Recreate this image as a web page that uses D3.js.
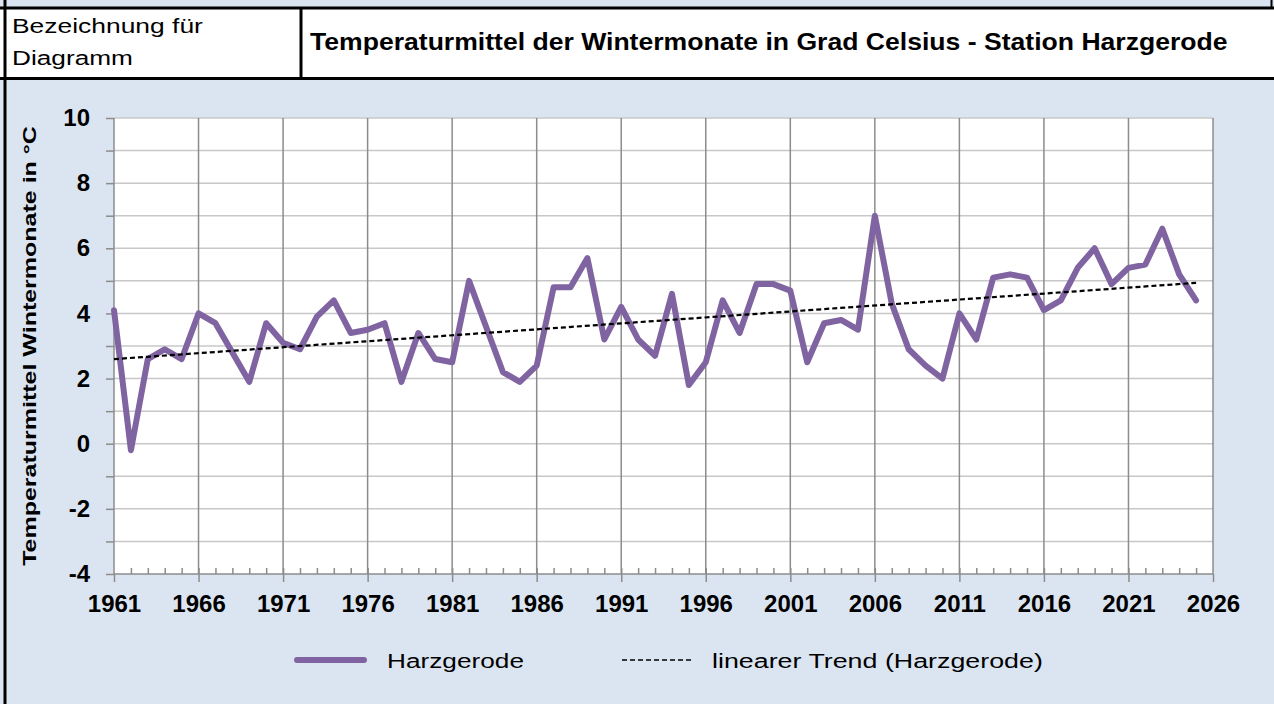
<!DOCTYPE html>
<html>
<head>
<meta charset="utf-8">
<script src="https://cdn.jsdelivr.net/npm/d3@7"></script>
<style>
  body { margin: 0; background: #fff; }
  svg { display: block; font-family: "Liberation Sans", Arial, sans-serif; }
  .grid-h line { stroke: #c8c8c8; stroke-width: 1.5; }
  .grid-v line { stroke: #8c8c8c; stroke-width: 1.5; }
  .axis path, .axis line { stroke: #8c8c8c; stroke-width: 1.5; }
  .axis text { font-size: 24px; font-weight: bold; fill: #000; font-family: "Liberation Sans", Arial, sans-serif; }
</style>
</head>
<body>
<svg id="mainFrame"></svg>
<script>
// data
const years = d3.range(1961, 2026)
const winterTemps = [
    4.1, -0.2, 2.6, 2.9, 2.6, 4.0, 3.7, 2.8, 1.9, 3.7,
    3.1, 2.9, 3.9, 4.4, 3.4, 3.5, 3.7, 1.9, 3.4, 2.6,
    2.5, 5.0, 3.6, 2.2, 1.9, 2.4, 4.8, 4.8, 5.7, 3.2,
    4.2, 3.2, 2.7, 4.6, 1.8, 2.5, 4.4, 3.4, 4.9, 4.9,
    4.7, 2.5, 3.7, 3.8, 3.5, 7.0, 4.3, 2.9, 2.4, 2.0,
    4.0, 3.2, 5.1, 5.2, 5.1, 4.1, 4.4, 5.4, 6.0, 4.9,
    5.4, 5.5, 6.6, 5.2, 4.4
]
const xTickYears = d3.range(1961, 2027, 5)
const yTickValues = [-4, -2, 0, 2, 4, 6, 8, 10]

const titleText = 'Temperaturmittel der Wintermonate in Grad Celsius - Station Harzgerode'
const headerLabel = ['Bezeichnung für', 'Diagramm']
const yAxisTitle = 'Temperaturmittel Wintermonate in °C'
const seriesName = 'Harzgerode'
const trendName = 'linearer Trend (Harzgerode)'

const data = years.map((y, i) => ({ year: y, temp: winterTemps[i] }))

const W = 1274, H = 704
const svg = d3.select('#mainFrame')
    .attr('width', W)
    .attr('height', H)

const margin = { top: 118, left: 114, right: W - 1213, bottom: H - 574 }
const plotW = W - margin.left - margin.right
const plotH = H - margin.top - margin.bottom

// the source renders its text wider than Arial: stretch glyphs horizontally to the measured width
const addText = (parent, x, y, str, size, width, opts = {}) => {
    const t = parent.append('text')
        .attr('font-size', size)
        .attr('font-weight', opts.bold ? 'bold' : null)
        .attr('text-anchor', opts.anchor || 'start')
        .text(str)
    const k = width / t.node().getComputedTextLength()
    t.attr('transform', `translate(${x},${y}) rotate(${opts.rotate || 0}) scale(${k},1)`)
    return t
}

// background + header
svg.append('rect').attr('width', W).attr('height', H).attr('fill', '#dbe5f1')
svg.append('rect').attr('x', 0).attr('y', 8).attr('width', W).attr('height', 70).attr('fill', '#fff')
svg.append('line').attr('x1', 0).attr('x2', W).attr('y1', 8).attr('y2', 8)
    .attr('stroke', '#000').attr('stroke-width', 3)
svg.append('line').attr('x1', 0).attr('x2', W).attr('y1', 78.5).attr('y2', 78.5)
    .attr('stroke', '#000').attr('stroke-width', 3)
svg.append('line').attr('x1', 5).attr('x2', 5).attr('y1', 0).attr('y2', H)
    .attr('stroke', '#000').attr('stroke-width', 3)
svg.append('line').attr('x1', 1271.5).attr('x2', 1271.5).attr('y1', 0).attr('y2', 8)
    .attr('stroke', '#000').attr('stroke-width', 2)
svg.append('line').attr('x1', 301).attr('x2', 301).attr('y1', 8).attr('y2', 78)
    .attr('stroke', '#000').attr('stroke-width', 3)

const headerWidths = [191, 121]
headerLabel.forEach((t, i) => addText(svg, 12, 33 + i * 32, t, 21, headerWidths[i]))

addText(svg, 310, 50, titleText, 23, 918, { bold: true })

const g = svg.append('g')
    .attr('transform', `translate(${margin.left},${margin.top})`)

const xScale = d3.scaleLinear().domain([1961, 2026]).range([0, plotW])
const yScale = d3.scaleLinear().domain([-4, 10]).range([plotH, 0])

g.append('rect').attr('width', plotW).attr('height', plotH).attr('fill', '#fff')

// gridlines
g.append('g').attr('class', 'grid-h')
    .selectAll('line').data(d3.range(-3, 11)).join('line')
    .attr('x1', 0).attr('x2', plotW)
    .attr('y1', d => yScale(d)).attr('y2', d => yScale(d))

g.append('g').attr('class', 'grid-v')
    .selectAll('line').data(xTickYears.slice(1)).join('line')
    .attr('x1', d => xScale(d)).attr('x2', d => xScale(d))
    .attr('y1', 0).attr('y2', plotH)

// axes
const yAxis = d3.axisLeft(yScale)
    .tickValues(d3.range(-4, 11))
    .tickSize(8)
    .tickPadding(16)
    .tickFormat(d => yTickValues.includes(d) ? d : '')
g.append('g').attr('class', 'axis').call(yAxis)
    .call(s => s.select('.domain').attr('d', `M0,${plotH}V0`))

const xMinor = d3.axisBottom(xScale)
    .tickValues(years.slice(1))
    .tickSize(-6)
    .tickFormat('')
g.append('g').attr('class', 'axis')
    .attr('transform', `translate(0,${plotH})`)
    .call(xMinor)
    .call(s => s.select('.domain').remove())

const xAxis = d3.axisBottom(xScale)
    .tickValues(xTickYears)
    .tickSize(8)
    .tickPadding(13)
    .tickFormat(d3.format('d'))
g.append('g').attr('class', 'axis')
    .attr('transform', `translate(0,${plotH})`)
    .call(xAxis)
    .call(s => s.select('.domain').attr('d', `M0,0H${plotW}`))

// series line
const line = d3.line()
    .x(d => xScale(d.year))
    .y(d => yScale(d.temp))

g.append('path')
    .datum(data)
    .attr('fill', 'none')
    .attr('stroke', '#8064a2')
    .attr('stroke-width', 6)
    .attr('stroke-linejoin', 'round')
    .attr('stroke-linecap', 'round')
    .attr('d', line)

// linear trend (least squares over the series)
const mx = d3.mean(data, d => d.year)
const my = d3.mean(data, d => d.temp)
const slope = d3.sum(data, d => (d.year - mx) * (d.temp - my)) / d3.sum(data, d => (d.year - mx) ** 2)
const trend = [years[0], years[years.length - 1]].map(y => ({ year: y, temp: my + slope * (y - mx) }))

g.append('path')
    .datum(trend)
    .attr('fill', 'none')
    .attr('stroke', '#000')
    .attr('stroke-width', 2.2)
    .attr('stroke-dasharray', '5,3')
    .attr('d', line)

// y axis title
addText(svg, 36, margin.top + plotH / 2, yAxisTitle, 19, 440,
    { bold: true, anchor: 'middle', rotate: -90 })

// legend
const legend = svg.append('g').attr('transform', 'translate(0,660)')
legend.append('line')
    .attr('x1', 297).attr('x2', 364)
    .attr('stroke', '#8064a2').attr('stroke-width', 6).attr('stroke-linecap', 'round')
addText(legend, 387, 8, seriesName, 21, 137)
legend.append('line')
    .attr('x1', 622).attr('x2', 692)
    .attr('stroke', '#000').attr('stroke-width', 1.6).attr('stroke-dasharray', '5,3')
addText(legend, 712, 8, trendName, 21, 331)
</script>
</body>
</html>
